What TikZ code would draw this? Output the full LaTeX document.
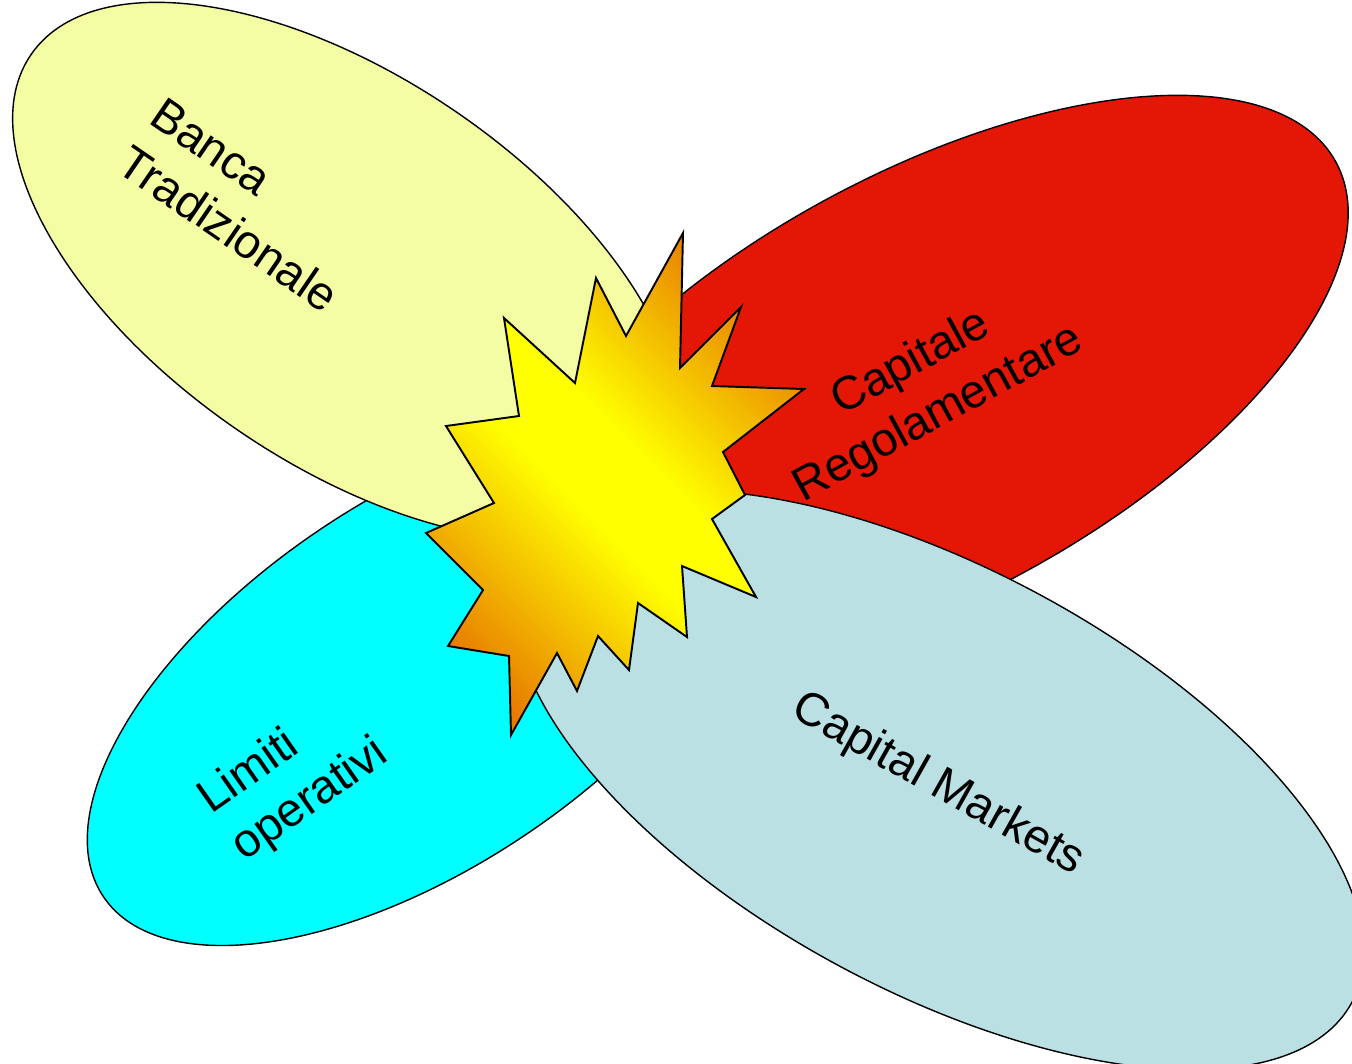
\documentclass[tikz,border=0pt]{standalone}
\usepackage{fontspec}
\setmainfont{Liberation Sans}

\definecolor{bankyellow}{RGB}{244,252,164}
\definecolor{capred}{RGB}{228,22,6}
\definecolor{limcyan}{RGB}{0,255,255}
\definecolor{mktblue}{RGB}{187,224,227}
\definecolor{burstorange}{RGB}{232,124,0}
\definecolor{burstyellow}{RGB}{255,255,0}

% orange - yellow - orange band used for the central burst
\pgfdeclareverticalshading{burstshade}{100bp}{%
  color(0bp)=(burstorange); color(35.6bp)=(burstorange);
  color(47.5bp)=(burstyellow); color(52.5bp)=(burstyellow);
  color(64.4bp)=(burstorange); color(100bp)=(burstorange)}

% outline of the fourteen-point burst (pixel coordinates, y downwards)
\def\burstoutline{(683,233) -- (680,368) -- (741,307) -- (712,386) -- (804,389)
  -- (723,452) -- (745,495) -- (712,519) -- (756,597) -- (682,566) -- (687,637)
  -- (638,603) -- (629,670) -- (598,636) -- (577,691) -- (557,653) -- (511,735)
  -- (509,656) -- (448,646) -- (483,590) -- (426,533) -- (494,503) -- (446,426)
  -- (519,416) -- (504,318) -- (575,383) -- (596,278) -- (626,336) -- cycle}

\begin{document}
\begin{tikzpicture}[x=0.02cm, y=-0.02cm,
  blob/.style={draw=black, line width=0.8pt},
  lbl/.style={font=\fontsize{26.75}{33}\selectfont, inner sep=0pt, text=black}]

\useasboundingbox (0,0) rectangle (1352,1063);
\clip (0,0) rectangle (1352,1063);

% the four petals, back to front
\draw[blob, fill=limcyan, rotate around={33.9:(423,682)}]
  (423,682) ellipse [x radius=385, y radius=184];
\draw[blob, fill=bankyellow, rotate around={-34.4:(347,271)}]
  (347,271) ellipse [x radius=383, y radius=193];
\draw[blob, fill=capred, rotate around={28.6:(925,386)}]
  (925,386) ellipse [x radius=468, y radius=211];
\draw[blob, fill=mktblue, rotate around={-28.3:(939,780)}]
  (939,780) ellipse [x radius=469, y radius=211];

% labels
\node[lbl, align=left, rotate=-34.4] (banca) at (245,205) {Banca\\Tradizionale};
\node[lbl, align=center, rotate=28.6] (capitale) at (925,389) {Capitale\\Regolamentare};
\node[lbl, align=left, rotate=35] (limiti) at (294,777) {Limiti\\operativi};
\node[lbl, rotate=-29.3] (markets) at (938,785) {Capital Markets};

% central burst with diagonal gradient
\begin{scope}
  \clip \burstoutline;
  \begin{scope}[transform canvas={rotate around={-45:(600,470)}}]
    \shade[shading=burstshade] (200,70) rectangle (1000,870);
  \end{scope}
\end{scope}
\draw[line width=1.1pt, line join=miter] \burstoutline;

\end{tikzpicture}
\end{document}
